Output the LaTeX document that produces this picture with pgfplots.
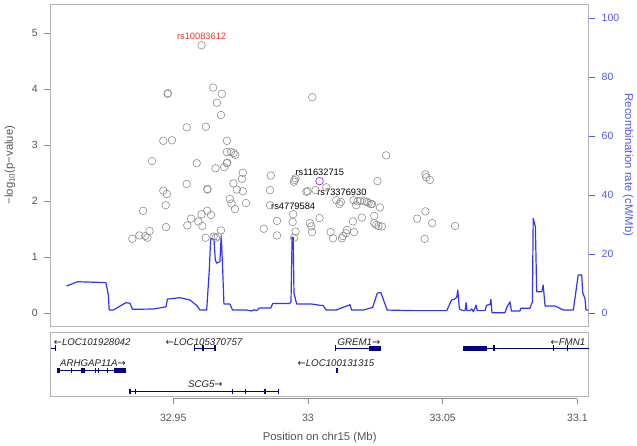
\documentclass[border=0pt]{standalone}
\usepackage{pgfplots}
\pgfplotsset{compat=1.18}
\usepackage{fontspec}
\setmainfont{Liberation Sans}
\newfontfamily\arrowfont{DejaVu Sans}
\newcommand{\la}{{\arrowfont\upshape ←}}
\newcommand{\ra}{{\arrowfont\upshape →}}
\definecolor{boxgray}{HTML}{B4B4B4}
\definecolor{tickgray}{HTML}{8C8C8C}
\definecolor{labgray}{HTML}{555555}
\definecolor{circgray}{HTML}{8E8E8E}
\definecolor{recblue}{HTML}{3333FF}
\definecolor{axblue}{HTML}{5555FF}
\definecolor{genenavy}{HTML}{000080}
\definecolor{genetext}{HTML}{222222}
\definecolor{snpred}{HTML}{FF2A2A}
\definecolor{snppurple}{HTML}{9932CC}
\tikzset{
  gline/.style={genenavy, line width=0.8pt},
  exon/.style={genenavy, line width=5pt},
  thin/.style={genenavy, line width=1.3pt},
  glab/.style={font=\fontsize{9.7}{11}\selectfont\itshape, text=genetext},
}

\pgfplotstableread{
x y
32.9104 9.25
32.9145 10.7
32.9250 10.4
32.9259 6.2
32.9262 1.1
32.9277 1.1
32.9324 3.6
32.9339 3.4
32.9349 1.35
32.9426 1.45
32.9473 2.2
32.9478 4.8
32.9525 5.3
32.9562 4.5
32.9589 2.5
32.9599 1.1
32.9624 1.1
32.9633 13.7
32.9639 25.3
32.9651 25.1
32.9656 18.1
32.9661 17.0
32.9673 17.5
32.9678 26.3
32.9683 15.8
32.9688 3.15
32.9710 3.15
32.9720 1.1
32.9772 1.1
32.9790 0.8
32.9800 1.2
32.9810 0.9
32.9819 1.8
32.9862 1.8
32.9869 3.3
32.9931 3.3
32.9937 3.9
32.9941 25.8
32.9945 25.8
32.9948 6.8
32.9958 3.15
33.0014 3.15
33.0045 2.7
33.0057 2.6
33.0067 1.1
33.0104 1.1
33.0156 2.9
33.0162 1.1
33.0205 1.1
33.0240 2.0
33.0257 6.8
33.0270 7.1
33.0294 1.1
33.0391 0.9
33.0515 0.9
33.0533 4.5
33.0542 4.7
33.0552 5.4
33.0556 7.9
33.0562 1.5
33.0574 0.9
33.0583 0.9
33.0587 3.6
33.0590 0.9
33.0601 0.9
33.0608 1.5
33.0614 0.5
33.0624 2.8
33.0628 1.0
33.0638 0.9
33.0657 0.9
33.0663 2.7
33.0676 3.0
33.0679 4.7
33.0683 0.2
33.0731 0.2
33.0738 2.0
33.0750 3.9
33.0755 0.8
33.0787 0.8
33.0790 1.7
33.0824 1.7
33.0833 3.9
33.0836 32.2
33.0844 29.4
33.0849 7.3
33.0868 7.3
33.0873 9.6
33.0880 2.5
33.0917 2.5
33.0948 1.1
33.0985 1.1
33.1003 13.0
33.1016 13.0
33.1020 6.8
33.1028 5.1
33.1032 1.1
33.1040 1.1
}\recomb

\pgfplotstableread{
x y
32.9605 4.786
32.9479 3.92
32.9480 3.93
32.9648 4.03
32.9680 3.92
32.9662 3.76
32.9677 3.54
32.9550 3.32
32.9621 3.33
32.9463 3.08
32.9495 3.09
32.9699 3.08
32.9421 2.72
32.9587 2.68
32.9699 2.88
32.9714 2.88
32.9724 2.86
32.9730 2.83
32.9699 2.68
32.9700 2.69
32.9657 2.59
32.9689 2.61
32.9758 2.51
32.9755 2.40
32.9723 2.32
32.9550 2.31
32.9626 2.22
32.9627 2.21
32.9736 2.21
32.9758 2.18
32.9463 2.19
32.9476 2.13
32.9710 2.04
32.9716 1.96
32.9770 1.97
32.9729 1.86
32.9472 1.93
32.9388 1.83
32.9626 1.83
32.9605 1.77
32.9640 1.755
32.9566 1.69
32.9593 1.64
32.9552 1.57
32.9608 1.56
32.9473 1.54
32.9412 1.47
32.9677 1.48
32.9374 1.39
32.9396 1.38
32.9404 1.35
32.9348 1.33
32.9620 1.35
32.9650 1.37
32.9658 1.35
32.9666 1.37
32.9836 1.51
32.9885 1.65
32.9885 1.39
32.9862 2.46
32.9859 2.20
32.9859 1.93
32.9948 2.35
32.9950 2.38
32.9954 2.41
32.9945 1.77
32.9943 1.63
32.9954 1.46
32.9948 1.35
33.0016 3.86
32.9994 2.17
32.9999 2.18
33.0028 2.20
33.0068 2.25
33.0290 2.82
33.0258 2.36
33.0105 2.02
33.0122 1.99
33.0117 1.95
33.0169 2.02
33.0179 1.93
33.0184 2.00
33.0194 2.01
33.0209 2.00
33.0219 1.99
33.0225 1.97
33.0234 1.95
33.0238 1.95
33.0267 1.89
33.0043 1.70
33.0007 1.61
33.0012 1.55
33.0015 1.45
33.0084 1.45
33.0093 1.34
33.0126 1.34
33.0130 1.38
33.0141 1.43
33.0145 1.49
33.0171 1.45
33.0167 1.64
33.0200 1.71
33.0246 1.74
33.0246 1.61
33.0253 1.58
33.0262 1.56
33.0274 1.55
33.0436 2.48
33.0439 2.43
33.0452 2.38
33.0436 1.82
33.0405 1.69
33.0461 1.61
33.0433 1.33
33.0546 1.56
}\snps

\begin{document}
\begin{tikzpicture}[x=1pt,y=1pt]
\useasboundingbox (0,0) rectangle (637,445);

% ---------- recombination rate (right axis) ----------
\begin{axis}[
  at={(50.7pt,119pt)}, anchor=south west,
  scale only axis, width=538pt, height=322pt,
  xmin=32.9045, xmax=33.1042, ymin=-4.305, ymax=104.85,
  axis x line=none, axis y line*=right,
  y axis line style={draw=none},
  ytick={0,20,40,60,80,100},
  tick align=outside, major tick length=6.5pt,
  every tick/.style={axblue, line width=0.6pt},
  yticklabel style={font=\fontsize{10.5}{12}\selectfont, text=axblue, xshift=3pt},
  /pgf/number format/assume math mode=true,
  every axis y label/.style={at={(axis description cs:1.073,0.5)}, rotate=-90, anchor=center},
  ylabel={Recombination rate (cM/Mb)},
  ylabel style={font=\fontsize{11.3}{13}\selectfont, text=axblue},
]
\addplot[recblue, line width=1.2pt, line join=round] table[x=x,y=y] {\recomb};
\end{axis}

% ---------- association (left axis) ----------
\begin{axis}[
  at={(50.7pt,119pt)}, anchor=south west,
  scale only axis, width=538pt, height=322pt,
  xmin=32.9045, xmax=33.1042, ymin=-0.2268, ymax=5.523,
  axis line style={boxgray, line width=0.8pt},
  xtick=\empty,
  ytick={0,1,2,3,4,5}, ytick pos=left,
  tick align=outside, major tick length=7pt,
  every tick/.style={tickgray, line width=0.6pt},
  yticklabel style={font=\fontsize{10.5}{12}\selectfont, text=labgray, xshift=-2.5pt},
  /pgf/number format/assume math mode=true,
  every axis y label/.style={at={(axis description cs:-0.0757,0.5)}, rotate=90, anchor=center},
  ylabel={−log\textsubscript{10}(p−value)},
  ylabel style={font=\fontsize{11.3}{13}\selectfont, text=labgray},
  clip=false,
]
\addplot[only marks, mark=o, mark size=3.8pt, circgray, mark options={line width=0.6pt}] table[x=x,y=y] {\snps};
\addplot[only marks, mark=o, mark size=3.8pt, snppurple, mark options={line width=0.7pt}] coordinates {(33.0043,2.36)};
\node[font=\fontsize{9.3}{11}\selectfont, text=snpred] at (axis cs:32.9605,4.95) {rs10083612};
\node[font=\fontsize{9.3}{11}\selectfont, text=black] at (axis cs:33.0044,2.52) {rs11632715};
\node[font=\fontsize{9.3}{11}\selectfont, text=black] at (axis cs:33.0126,2.16) {rs73376930};
\node[font=\fontsize{9.3}{11}\selectfont, text=black] at (axis cs:32.9945,1.91) {rs4779584};
\end{axis}

% ---------- genes ----------
\begin{axis}[
  at={(50.7pt,46.5pt)}, anchor=south west,
  scale only axis, width=538pt, height=65.8pt,
  xmin=32.9045, xmax=33.1042, ymin=0, ymax=65.8,
  clip=false,
  axis y line=none, axis x line*=bottom,
  x axis line style={draw=none},
  xtick={32.95,33,33.05,33.1},
  xticklabels={32.95,33,33.05,33.1},
  tick align=outside, major tick length=5pt,
  every tick/.style={tickgray, line width=0.6pt},
  xticklabel style={font=\fontsize{10.5}{12}\selectfont, text=labgray, yshift=-7pt},
  every axis x label/.style={at={(axis description cs:0.5,-0.6)}, anchor=center},
  xlabel={Position on chr15 (Mb)},
  xlabel style={font=\fontsize{11.3}{13}\selectfont, text=labgray},
]
\draw[boxgray, line width=0.8pt] (axis cs:32.9045,1.8) rectangle (axis cs:33.1042,65.8);
\draw[tickgray, line width=0.6pt] (axis cs:32.95,0) -- (axis cs:33.1,0);

% row 1
\addplot[gline] coordinates {(32.9045,50.5) (32.9063,50.5)};
\addplot[thin] coordinates {(32.9063,48) (32.9063,53)};
\node[glab] at (axis cs:32.9199,56.8) {\la LOC101928042};

\addplot[gline] coordinates {(32.9578,50.5) (32.9655,50.5)};
\addplot[thin] coordinates {(32.9578,48) (32.9578,53)};
\addplot[thin] coordinates {(32.9610,48) (32.9610,53)};
\addplot[thin] coordinates {(32.9655,48) (32.9655,53)};
\node[glab] at (axis cs:32.9614,56.8) {\la LOC105370757};

\addplot[gline] coordinates {(33.0103,50.5) (33.0270,50.5)};
\addplot[thin] coordinates {(33.0103,48) (33.0103,53)};
\addplot[exon] coordinates {(33.0228,50.5) (33.0270,50.5)};
\node[glab] at (axis cs:33.0189,56.8) {GREM1\ra};

\addplot[gline] coordinates {(33.0574,50.5) (33.1042,50.5)};
\addplot[exon] coordinates {(33.0574,50.5) (33.0666,50.5)};
\addplot[thin] coordinates {(33.0691,48) (33.0691,53)};
\addplot[thin] coordinates {(33.0911,48) (33.0911,53)};
\addplot[thin] coordinates {(33.0964,48) (33.0964,53)};
\node[glab, anchor=east] at (axis cs:33.1042,56.8) {\la FMN1};

% row 2
\addplot[gline] coordinates {(32.9069,27.8) (32.9323,27.8)};
\addplot[exon] coordinates {(32.9069,27.8) (32.9080,27.8)};
\addplot[thin] coordinates {(32.9123,25.3) (32.9123,30.3)};
\addplot[exon] coordinates {(32.9156,27.8) (32.9172,27.8)};
\addplot[thin] coordinates {(32.9212,25.3) (32.9212,30.3)};
\addplot[thin] coordinates {(32.9222,25.3) (32.9222,30.3)};
\addplot[thin] coordinates {(32.9256,25.3) (32.9256,30.3)};
\addplot[exon] coordinates {(32.9280,27.8) (32.9323,27.8)};
\node[glab] at (axis cs:32.9202,35.5) {ARHGAP11A\ra};

\addplot[exon] coordinates {(33.0105,27.8) (33.0110,27.8)};
\node[glab] at (axis cs:33.0104,35.5) {\la LOC100131315};

% row 3
\addplot[gline] coordinates {(32.9339,6.8) (32.9892,6.8)};
\addplot[thin] coordinates {(32.9339,4.3) (32.9339,9.3)};
\addplot[thin] coordinates {(32.9360,4.3) (32.9360,9.3)};
\addplot[thin] coordinates {(32.9720,4.3) (32.9720,9.3)};
\addplot[thin] coordinates {(32.9769,4.3) (32.9769,9.3)};
\addplot[thin] coordinates {(32.9840,4.3) (32.9840,9.3)};
\addplot[exon] coordinates {(32.9887,6.8) (32.9892,6.8)};
\node[glab] at (axis cs:32.9619,14.5) {SCG5\ra};
\end{axis}
\end{tikzpicture}
\end{document}
